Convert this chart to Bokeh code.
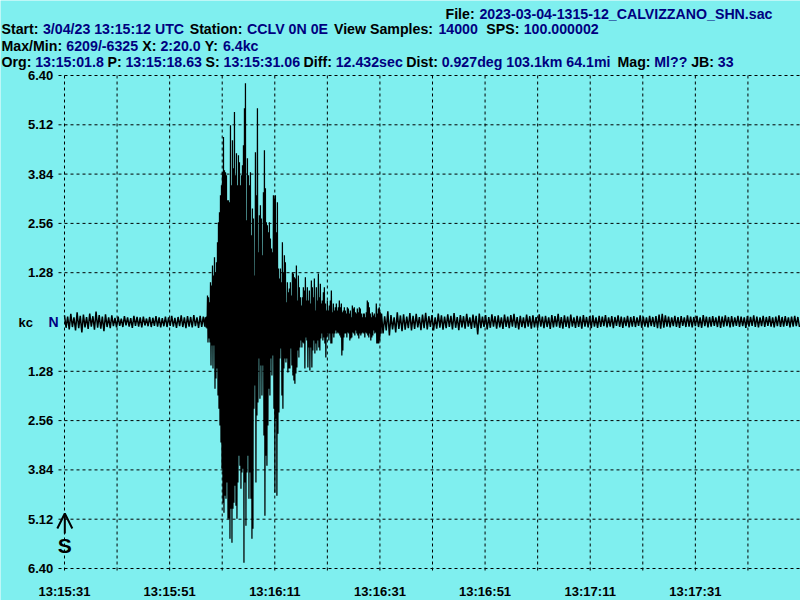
from bokeh.plotting import figure
from bokeh.models import Range1d, Label, Arrow, OpenHead
from bokeh.core.properties import value
from bokeh.embed import file_html
from bokeh.resources import INLINE

# ---------------- data ----------------
# time axis: seconds after 13:15:31 (140 s view = 14000 samples @ 100 SPS)
x_ticks = [0, 10, 20, 30, 40, 50, 60, 70, 80, 90, 100, 110, 120, 130]
x_label_ticks = [0, 20, 40, 60, 80, 100, 120]
x_tick_labels = ["13:15:31", "13:15:51", "13:16:11", "13:16:31", "13:16:51", "13:17:11", "13:17:31"]
y_ticks = [-6.40, -5.12, -3.84, -2.56, -1.28, 1.28, 2.56, 3.84, 5.12, 6.40]
y_tick_labels = ["6.40", "5.12", "3.84", "2.56", "1.28", "1.28", "2.56", "3.84", "5.12", "6.40"]
t_view_end = 140.0
amp_scale = 6.4        # Y: 6.4kc

s_arrival = 0.06  # S: 13:15:31.06

# pre-event noise: peaks / troughs (kc), one pair every 0.6 s from t=0
pre_t0, pre_dt = 0.0, 0.6
pre_hi = [0.17, 0.14, 0.21, 0.12, 0.25, 0.16, 0.19, 0.13, 0.22, 0.15,
          0.27, 0.18, 0.14, 0.20, 0.12, 0.17, 0.11, 0.14, 0.09, 0.15,
          0.12, 0.10, 0.16, 0.13, 0.12, 0.14, 0.09, 0.13, 0.11, 0.15,
          0.12, 0.10, 0.14, 0.12, 0.16, 0.11, 0.13, 0.17, 0.12, 0.15,
          0.13, 0.18, 0.12, 0.16, 0.14]
pre_lo = [-0.15, -0.19, -0.13, -0.22, -0.16, -0.27, -0.14, -0.18, -0.12, -0.20,
          -0.15, -0.17, -0.24, -0.13, -0.16, -0.11, -0.14, -0.10, -0.13, -0.09,
          -0.12, -0.15, -0.10, -0.12, -0.14, -0.09, -0.11, -0.13, -0.10, -0.12,
          -0.14, -0.11, -0.13, -0.10, -0.12, -0.15, -0.11, -0.13, -0.16, -0.12,
          -0.14, -0.11, -0.15, -0.13, -0.12]

# main event: peaks / troughs (kc), one pair every 0.19 s
ev_t0, ev_dt = 26.82, 0.19
ev_hi = [0.12, 0.14, 0.69, 0.64, 0.51, 1.03, 0.95, 1.47, 1.21, 1.68,
         1.29, 1.55, 2.07, 2.59, 2.85, 3.29, 3.55, 3.89, 4.80, 3.94,
         3.89, 3.81, 3.16, 3.16, 3.11, 5.11, 3.55, 4.72, 3.99, 5.45,
         3.81, 4.38, 3.55, 4.33, 4.15, 3.55, 3.81, 4.07, 4.59, 5.55,
         6.20, 2.64, 4.25, 3.81, 3.55, 3.89, 2.25, 2.95, 2.69, 1.21,
         4.41, 3.29, 5.55, 1.81, 2.77, 3.03, 2.69, 1.73, 3.37, 4.46,
         3.47, 2.59, 2.51, 2.33, 2.59, 2.17, 1.91, 1.81, 3.29, 3.21,
         3.29, 2.33, 3.11, 1.39, 1.13, 1.39, 1.03, 2.07, 1.29, 1.73,
         1.55, 0.51, 1.03, 0.77, 0.87, 1.03, 0.69, 1.29, 1.26, 1.16,
         1.13, 1.47, 0.56, 1.21, 0.90, 0.64, 0.43, 0.64, 0.90, 0.82,
         1.16, 0.56, 0.90, 0.56, 0.82, 0.48, 1.08, 0.90, 0.64, 1.13,
         0.30, 0.90, 0.56, 1.26, 0.64, 0.99, 0.48, 0.56, 0.77, 0.90,
         0.48, 0.30, 0.56, 0.30, 0.43, 0.56, 0.82, 0.25, 0.48, 0.30,
         0.38, 0.48, 0.30, 0.38, 0.56, 0.38, 0.48, 0.25, 0.30, 0.38,
         0.30, 0.22, 0.38, 0.35, 0.22, 0.30, 0.12, 0.43, 0.35, 0.38,
         0.25, 0.22, 0.35, 0.25, 0.38, 0.35, 0.22, 0.12, 0.22, 0.22,
         0.12, 0.25, 0.56, 0.51, 0.38, 0.22, 0.12, 0.25, 0.17, 0.22,
         0.12, 0.48, 0.22, 0.35, 0.38, 0.25]
ev_lo = [-0.14, -0.17, -0.53, -0.43, -0.53, -1.13, -0.61, -1.21, -0.61, -1.73,
         -1.47, -1.21, -1.91, -2.25, -2.69, -3.13, -3.81, -4.69, -4.95, -4.51,
         -4.59, -4.17, -5.11, -5.11, -5.63, -4.85, -5.73, -4.85, -4.69, -4.25,
         -4.77, -5.11, -4.17, -3.47, -3.73, -4.33, -3.91, -3.81, -6.25, -4.17,
         -5.29, -3.91, -3.47, -4.59, -3.91, -4.59, -5.63, -5.37, -2.25, -1.65,
         -4.17, -2.43, -2.09, -0.95, -1.99, -1.13, -1.91, -1.13, -2.95, -5.03,
         -3.47, -3.73, -2.69, -1.73, -1.91, -0.95, -1.39, -0.87, -2.25, -4.43,
         -2.51, -4.51, -2.90, -2.35, -0.95, -0.69, -1.91, -2.25, -1.21, -0.95,
         -1.05, -0.95, -1.31, -1.21, -1.21, -0.69, -1.13, -1.39, -1.52, -1.60,
         -1.34, -1.18, -0.74, -0.92, -0.66, -0.48, -0.66, -0.53, -0.56, -1.21,
         -0.40, -0.48, -1.18, -0.66, -1.26, -0.66, -1.18, -0.74, -0.48, -0.82,
         -0.56, -0.74, -0.48, -0.66, -0.74, -0.43, -0.30, -0.48, -0.40, -0.56,
         -0.92, -0.40, -0.30, -0.48, -0.30, -0.56, -0.56, -0.30, -0.40, -0.30,
         -0.22, -0.30, -0.27, -0.30, -0.35, -0.40, -0.87, -0.74, -0.40, -0.30,
         -0.30, -0.40, -0.27, -0.30, -0.48, -0.43, -0.40, -0.27, -0.30, -0.35,
         -0.22, -0.30, -0.35, -0.43, -0.30, -0.35, -0.30, -0.27, -0.30, -0.40,
         -0.27, -0.30, -0.35, -0.40, -0.30, -0.48, -0.40, -0.35, -0.22, -0.30,
         -0.27, -0.56, -0.56, -0.56, -0.48, -0.30]

# tail / background noise: peaks / troughs (kc), one pair every 0.6 s
tail_t0, tail_dt = 60.3, 0.6
tail_hi = [0.22, 0.15, 0.28, 0.18, 0.12, 0.25, 0.17, 0.20, 0.14, 0.23,
           0.16, 0.21, 0.13, 0.19, 0.24, 0.15, 0.18, 0.12, 0.22, 0.17,
           0.14, 0.20, 0.16, 0.23, 0.13, 0.18, 0.15, 0.21, 0.12, 0.19,
           0.16, 0.22, 0.14, 0.18, 0.13, 0.20, 0.15, 0.17, 0.12, 0.19,
           0.14, 0.18, 0.21, 0.13, 0.16, 0.12, 0.19, 0.15, 0.17, 0.13,
           0.20, 0.14, 0.16, 0.12, 0.18, 0.15, 0.21, 0.13, 0.17, 0.14,
           0.19, 0.12, 0.16, 0.14, 0.18, 0.13, 0.15, 0.17, 0.12, 0.16,
           0.14, 0.18, 0.12, 0.15, 0.13, 0.17, 0.14, 0.12, 0.16, 0.13,
           0.15, 0.12, 0.17, 0.14, 0.12, 0.16, 0.13, 0.15, 0.19, 0.21,
           0.17, 0.14, 0.12, 0.16, 0.13, 0.15, 0.12, 0.17, 0.14, 0.13,
           0.16, 0.12, 0.18, 0.14, 0.13, 0.15, 0.12, 0.16, 0.14, 0.17,
           0.13, 0.15, 0.12, 0.16, 0.14, 0.12, 0.15, 0.13, 0.17, 0.14,
           0.12, 0.16, 0.13, 0.15, 0.12, 0.14, 0.17, 0.13, 0.15, 0.12,
           0.14, 0.16, 0.13]
tail_lo = [-0.30, -0.22, -0.35, -0.19, -0.27, -0.18, -0.24, -0.20, -0.16, -0.22,
           -0.18, -0.14, -0.21, -0.16, -0.19, -0.13, -0.22, -0.17, -0.15, -0.20,
           -0.16, -0.13, -0.19, -0.15, -0.21, -0.14, -0.17, -0.12, -0.18, -0.15,
           -0.32, -0.16, -0.13, -0.19, -0.15, -0.12, -0.17, -0.14, -0.18, -0.13,
           -0.16, -0.12, -0.15, -0.19, -0.13, -0.16, -0.12, -0.17, -0.14, -0.15,
           -0.12, -0.16, -0.13, -0.18, -0.14, -0.12, -0.15, -0.17, -0.13, -0.16,
           -0.12, -0.15, -0.13, -0.17, -0.12, -0.14, -0.16, -0.12, -0.15, -0.13,
           -0.11, -0.14, -0.12, -0.16, -0.10, -0.13, -0.15, -0.11, -0.14, -0.12,
           -0.13, -0.10, -0.15, -0.12, -0.14, -0.11, -0.13, -0.16, -0.17, -0.15,
           -0.12, -0.14, -0.11, -0.13, -0.15, -0.10, -0.13, -0.12, -0.14, -0.11,
           -0.13, -0.15, -0.11, -0.14, -0.12, -0.10, -0.13, -0.15, -0.12, -0.11,
           -0.14, -0.12, -0.10, -0.13, -0.11, -0.15, -0.12, -0.10, -0.13, -0.14,
           -0.11, -0.13, -0.10, -0.12, -0.14, -0.11, -0.13, -0.12, -0.10, -0.14,
           -0.12, -0.11, -0.13]

# header text: (text, colour key)  k = black label, n = navy value
header_file = [("File: ", "k"), ("2023-03-04-1315-12_CALVIZZANO_SHN.sac", "n")]
header_start = [("Start: ", "k"), ("3/04/23 13:15:12 UTC ", "n"), ("Station: ", "k"),
                ("CCLV 0N 0E ", "n"), ("View Samples: ", "k"), ("14000  ", "n"),
                ("SPS: ", "k"), ("100.000002", "n")]
header_max = [("Max/Min: ", "k"), ("6209/-6325 ", "n"), ("X: ", "k"), ("2:20.0 ", "n"),
              ("Y: ", "k"), ("6.4kc", "n")]
header_org = [("Org: ", "k"), ("13:15:01.8 ", "n"), ("P: ", "k"), ("13:15:18.63 ", "n"),
              ("S: ", "k"), ("13:15:31.06 ", "n"), ("Diff: ", "k"), ("12.432sec ", "n"),
              ("Dist: ", "k"), ("0.927deg 103.1km 64.1mi  ", "n"), ("Mag: ", "k"),
              ("Ml?? ", "n"), ("JB: ", "k"), ("33", "n")]

# ---------------- layout / style ----------------
BG = "#7FEFEF"
COLORS = {"k": "#000000", "n": "#000080"}
FONT = "Liberation Sans"
HEAD_SIZE = 14.2
FIG_W, FIG_H = 800, 600
PLOT_LEFT, PLOT_TOP = 64, 75          # plot area corner inside the canvas (px)
PLOT_H = 493                          # plot area height (px)
PX_S = (FIG_W - PLOT_LEFT) / t_view_end   # px per second
PX_KC = PLOT_H / (2 * amp_scale)          # px per kc

# Arial/Liberation Sans Bold advance widths (1/1000 em)
W = {" ": 278, ":": 333, "/": 278, "-": 333, ".": 278, "_": 556, "?": 611}
W.update({d: 556 for d in "0123456789"})
W.update(dict(zip("ABCDEFGHIJKLMNOPQRSTUVWXYZ",
                  [722, 722, 722, 722, 667, 611, 778, 722, 278, 556, 722, 611, 833,
                   722, 778, 667, 778, 722, 667, 611, 722, 667, 944, 667, 667, 611])))
W.update(dict(zip("abcdefghijklmnopqrstuvwxyz",
                  [556, 611, 556, 611, 556, 333, 611, 611, 278, 278, 556, 278, 889,
                   611, 611, 611, 611, 389, 556, 333, 611, 556, 778, 556, 556, 500])))


def text_width(s, size):
    return sum(W.get(c, 556) for c in s) * size / 1000.0


def zigzag(t0, dt, hi, lo):
    xs, ys = [], []
    for i, (h, l) in enumerate(zip(hi, lo)):
        xs.append(t0 + i * dt)
        ys.append(h)
        xs.append(t0 + (i + 0.5) * dt)
        ys.append(l)
    return xs, ys


x_start = -PLOT_LEFT / PX_S
y_top = amp_scale + PLOT_TOP / PX_KC
y_bot = -amp_scale - (FIG_H - PLOT_TOP - PLOT_H) / PX_KC

p = figure(width=FIG_W, height=FIG_H, x_range=Range1d(x_start, t_view_end),
           y_range=Range1d(y_bot, y_top), x_axis_type=None, y_axis_type=None,
           output_backend="svg", toolbar_location=None, min_border=0,
           background_fill_color=BG, border_fill_color=BG, outline_line_color=None)
p.grid.visible = False

# dashed grid (extends 5-6 px past the plot area like tick marks)
tick_len_s = 6 / PX_S
tick_len_kc = 5 / PX_KC
p.segment(x0=x_ticks, y0=[amp_scale] * len(x_ticks), x1=x_ticks,
          y1=[-amp_scale - tick_len_kc] * len(x_ticks),
          line_color="black", line_width=1, line_dash="3 3")
p.segment(x0=[-tick_len_s] * len(y_ticks), y0=y_ticks, x1=[t_view_end] * len(y_ticks),
          y1=y_ticks, line_color="black", line_width=1, line_dash="3 3")

# tick labels
p.text(x=x_label_ticks, y=[-amp_scale - 23.3 / PX_KC] * len(x_label_ticks), text=x_tick_labels,
       text_font=value(FONT), text_font_style="bold", text_font_size="13px",
       text_color="black", text_align="center", text_baseline="alphabetic")
p.text(x=[-11.3 / PX_S] * len(y_ticks), y=y_ticks, text=y_tick_labels,
       text_font=value(FONT), text_font_style="bold", text_font_size="13px",
       text_color="black", text_align="right", text_baseline="middle")

# waveform
xa, ya = zigzag(pre_t0, pre_dt, pre_hi, pre_lo)
xb, yb = zigzag(ev_t0, ev_dt, ev_hi, ev_lo)
xc, yc = zigzag(tail_t0, tail_dt, tail_hi, tail_lo)
xa = xa + [xb[0]]
ya = ya + [yb[0]]
xc = [xb[-1]] + xc
yc = [yb[-1]] + yc
p.line(xa, ya, line_color="black", line_width=1.5)
p.line(xb, yb, line_color="black", line_width=1.25)
p.line(xc, yc, line_color="black", line_width=1.5)

# channel / units label at zero line
p.add_layout(Label(x=0, y=0, x_offset=-46, text="kc", text_font=FONT, text_font_style="bold",
                   text_font_size="13px", text_color="black", text_baseline="middle",
                   text_align="left"))
p.add_layout(Label(x=0, y=0, x_offset=-6, text="N", text_font=FONT, text_font_style="bold",
                   text_font_size="14px", text_color=COLORS["n"], text_baseline="middle",
                   text_align="right"))

# S-phase marker
p.add_layout(Arrow(end=OpenHead(size=15, line_width=2, line_color="black"),
                   x_start=s_arrival, y_start=-amp_scale + 35 / PX_KC,
                   x_end=s_arrival, y_end=-amp_scale + 55 / PX_KC,
                   line_width=2, line_color="black"))
p.add_layout(Label(x=s_arrival, y=-amp_scale, y_offset=23.5, text="S", text_font=FONT,
                   text_font_style="bold", text_font_size="21px", text_color="black",
                   text_baseline="middle", text_align="center"))


# header lines: segments laid out left to right, spread to the line's span
def header(segments, x_from, x_to, y_off):
    total = sum(text_width(t, HEAD_SIZE) for t, _ in segments)
    stretch = (x_to - x_from) / total
    x = 0.0
    for txt, ck in segments:
        s = txt.rstrip()
        if s:
            p.add_layout(Label(x=0, y=amp_scale, x_offset=x_from + x * stretch, y_offset=y_off,
                               text=s, text_font=FONT, text_font_style="bold",
                               text_font_size="%gpx" % HEAD_SIZE, text_color=COLORS[ck],
                               text_baseline="alphabetic", text_align="left"))
        x += text_width(txt, HEAD_SIZE)


header(header_file, 381, 716, 61.7)
header(header_start, -63, 535, 47)
header(header_max, -63, 194, 30)
header(header_org, -63, 669, 13.5)

open("out.html", "w").write(file_html(p, INLINE))
